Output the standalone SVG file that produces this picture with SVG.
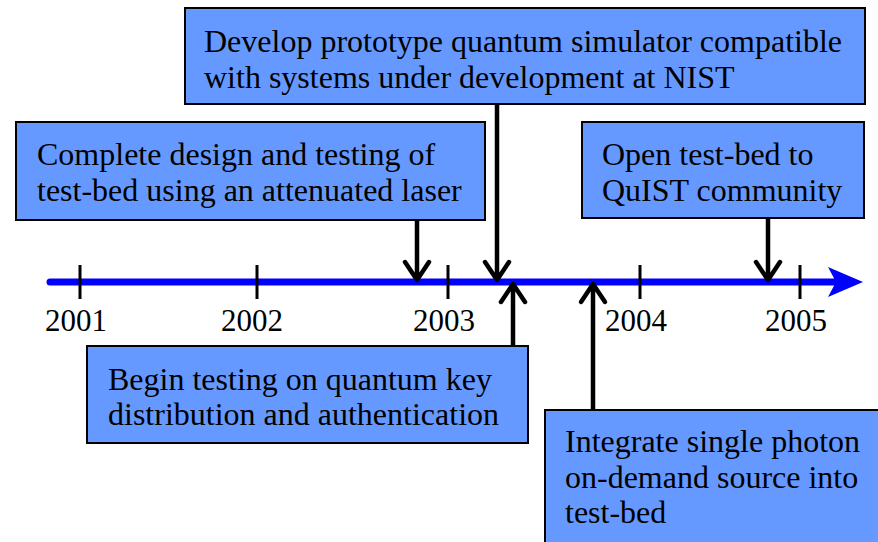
<svg xmlns="http://www.w3.org/2000/svg" width="878" height="542" viewBox="0 0 878 542">
<style>
.box{fill:#6699FF;stroke:#000;stroke-width:2}
.t{font-family:"Liberation Serif","Times New Roman",serif;font-size:32px;fill:#000}
.yr{font-family:"Liberation Serif","Times New Roman",serif;font-size:31px;fill:#000;text-anchor:middle}
.tick{stroke:#000;stroke-width:3}
.arr{stroke:#000;stroke-width:4.5;fill:none;stroke-linecap:round;stroke-linejoin:round}
</style>
<rect width="878" height="542" fill="#fff"/>
<g id="timeline">
<line x1="50" y1="282" x2="835" y2="282" stroke="#0000FF" stroke-width="7" stroke-linecap="round"/>
<polygon points="828,267 863,282 828,297 836,282" fill="#0000FF"/>
<line class="tick" x1="80" y1="265" x2="80" y2="299"/>
<line class="tick" x1="257" y1="265" x2="257" y2="299"/>
<line class="tick" x1="448" y1="265" x2="448" y2="299"/>
<line class="tick" x1="640" y1="265" x2="640" y2="299"/>
<line class="tick" x1="800" y1="265" x2="800" y2="299"/>
<text class="yr" x="76" y="331">2001</text>
<text class="yr" x="252" y="331">2002</text>
<text class="yr" x="444" y="331">2003</text>
<text class="yr" x="636" y="331">2004</text>
<text class="yr" x="796" y="331">2005</text>
</g>
<g id="connectors">
<path class="arr" d="M417,220 V280 M405,262 L417,280 L429,262"/>
<path class="arr" d="M497,104 V280 M485,262 L497,280 L509,262"/>
<path class="arr" d="M513,346 V284 M501,302 L513,284 L525,302"/>
<path class="arr" d="M593,410 V284 M581,302 L593,284 L605,302"/>
<path class="arr" d="M768,218 V280 M756,262 L768,280 L780,262"/>
</g>
<g id="node-develop">
<rect class="box" x="185" y="8" width="680" height="96"/>
<text class="t" x="204" y="52" textLength="638" lengthAdjust="spacingAndGlyphs">Develop prototype quantum simulator compatible</text>
<text class="t" x="204" y="88">with systems under development at NIST</text>
</g>
<g id="node-complete">
<rect class="box" x="16" y="122" width="469" height="98"/>
<text class="t" x="37" y="165">Complete design and testing of</text>
<text class="t" x="37" y="201">test-bed using an attenuated laser</text>
</g>
<g id="node-open">
<rect class="box" x="582" y="122" width="282" height="96"/>
<text class="t" x="602" y="165">Open test-bed to</text>
<text class="t" x="602" y="201">QuIST community</text>
</g>
<g id="node-begin">
<rect class="box" x="87" y="346" width="441" height="97"/>
<text class="t" x="108" y="390">Begin testing on quantum key</text>
<text class="t" x="108" y="425">distribution and authentication</text>
</g>
<g id="node-integrate">
<rect class="box" x="545" y="410" width="340" height="140"/>
<text class="t" x="565" y="452">Integrate single photon</text>
<text class="t" x="565" y="488">on-demand source into</text>
<text class="t" x="565" y="523">test-bed</text>
</g>
</svg>
